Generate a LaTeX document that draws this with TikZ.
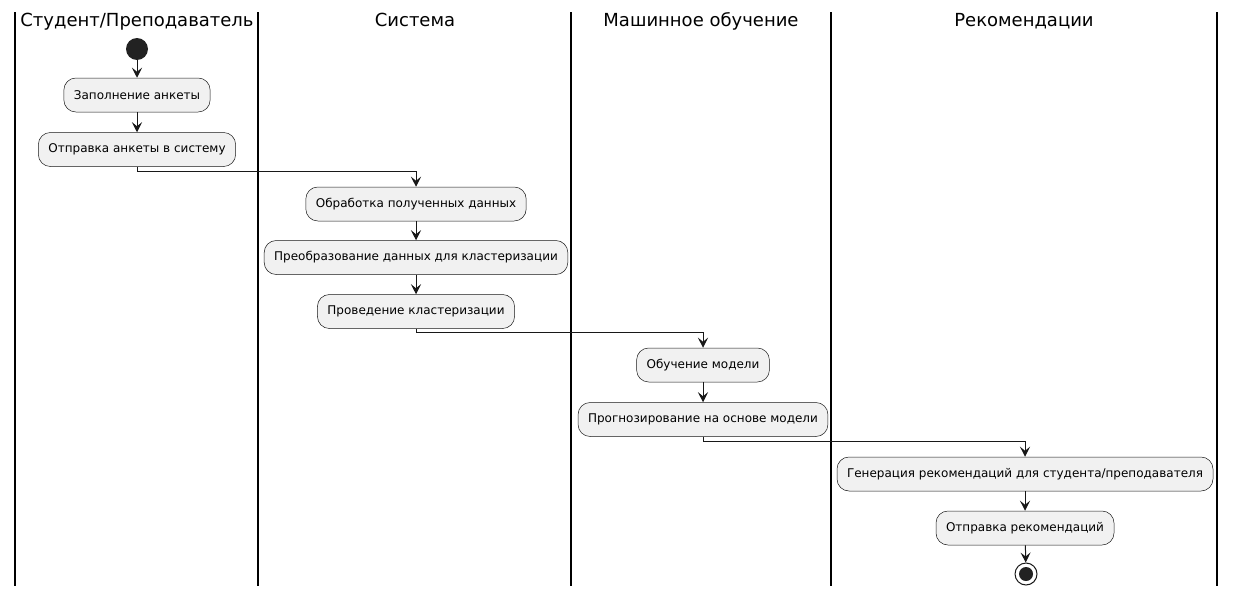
\documentclass[tikz,border=0pt]{standalone}
\usepackage{fontspec}
\setmainfont{DejaVu Sans}
\usetikzlibrary{arrows.meta}
\definecolor{ln}{HTML}{181818}
\definecolor{bx}{HTML}{F1F1F1}
\definecolor{dot}{HTML}{222222}
\begin{document}
\begin{tikzpicture}[x=1pt,y=-1pt,
  act/.style={draw=ln, line width=0.5pt, fill=bx, rounded corners=12pt, minimum height=34pt, inner xsep=10pt, font=\fontsize{12}{14}\selectfont},
  flow/.style={draw=ln, line width=1pt, -{Stealth[length=10pt,width=10pt,inset=4pt]}},
  lane/.style={draw=black, line width=1.5pt},
  title/.style={font=\fontsize{18}{20}\selectfont, anchor=base}]
\useasboundingbox (0,0) rectangle (1236,597);
\fill[white] (0,0) rectangle (1236,597);
% lanes
\coordinate (l0t) at (15,12); \coordinate (l0b) at (15,586);
\coordinate (l1t) at (258,12); \coordinate (l1b) at (258,586);
\coordinate (l2t) at (571,12); \coordinate (l2b) at (571,586);
\coordinate (l3t) at (831,12); \coordinate (l3b) at (831,586);
\coordinate (l4t) at (1217,12); \coordinate (l4b) at (1217,586);
\draw[lane] (l0t) -- (l0b);
\draw[lane] (l1t) -- (l1b);
\draw[lane] (l2t) -- (l2b);
\draw[lane] (l3t) -- (l3b);
\draw[lane] (l4t) -- (l4b);
\node[title] (t1) at (137,27) {Студент/Преподаватель};
\node[title] (t2) at (415,27) {Система};
\node[title] (t3) at (701,27) {Машинное обучение};
\node[title] (t4) at (1024,27) {Рекомендации};
% nodes
\node[circle, fill=dot, minimum size=22pt, inner sep=0pt] (start) at (137,49) {};
\node[act] (b1) at (137,95) {Заполнение анкеты};
\node[act] (b2) at (137,149.5) {Отправка анкеты в систему};
\node[act] (b3) at (416,204) {Обработка полученных данных};
\node[act] (b4) at (416,257.5) {Преобразование данных для кластеризации};
\node[act] (b5) at (416,311.5) {Проведение кластеризации};
\node[act] (b6) at (703,365) {Обучение модели};
\node[act] (b7) at (703,419.5) {Прогнозирование на основе модели};
\node[act] (b8) at (1025,474) {Генерация рекомендаций для студента/преподавателя};
\node[act] (b9) at (1025,528) {Отправка рекомендаций};
\node[circle, draw=ln, line width=1pt, fill=white, minimum size=22pt, inner sep=0pt] (stop) at (1026,574) {};
\node[circle, fill=dot, minimum size=14pt, inner sep=0pt] (stopin) at (1026,574) {};
% flows
\draw[flow] (start) -- (b1);
\draw[flow] (b1) -- (b2);
\draw[flow] (b2.south) |- ([yshift=15pt]b3.north) -- (b3.north);
\draw[flow] (b3) -- (b4);
\draw[flow] (b4) -- (b5);
\draw[flow] (b5.south) |- ([yshift=15pt]b6.north) -- (b6.north);
\draw[flow] (b6) -- (b7);
\draw[flow] (b7.south) |- ([yshift=15pt]b8.north) -- (b8.north);
\draw[flow] (b8) -- (b9);
\draw[flow] (b9) -- (stop);
\end{tikzpicture}
\end{document}
